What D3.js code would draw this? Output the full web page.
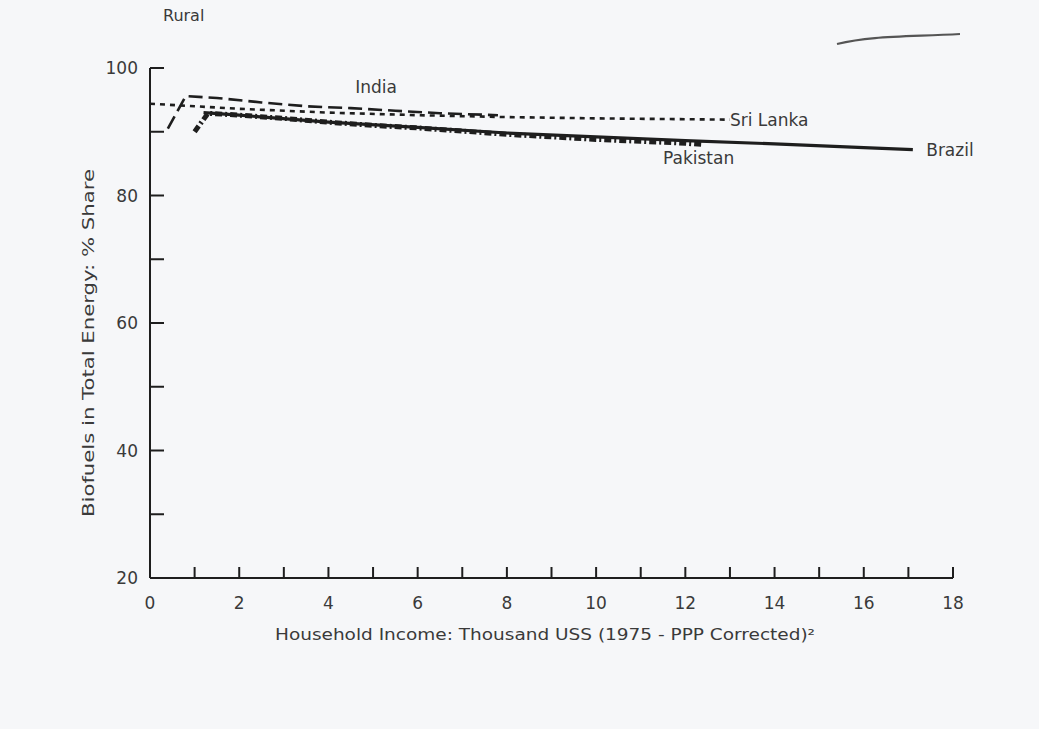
<!DOCTYPE html>
<html>
<head>
<meta charset="utf-8">
<script src="https://cdn.jsdelivr.net/npm/d3@7"></script>
<style>
  body { margin: 0; background: #f6f7f9; }
  svg { display: block; }
  text { font-family: "DejaVu Sans", sans-serif; fill: #3a3a3a; }
</style>
</head>
<body>
<svg id="chart" width="1039" height="729"></svg>
<script>
// data (income in thousand US$, share in %)
const sriLankaX = [0, 1, 2, 4, 6, 8, 10, 13];
const sriLankaY = [94.4, 94.0, 93.6, 93.0, 92.6, 92.3, 92.1, 91.9];

const indiaX = [0.4, 0.8, 1.5, 2.5, 3.5, 4.5, 5.5, 6.5, 7.8];
const indiaY = [90.5, 95.6, 95.3, 94.6, 94.0, 93.7, 93.3, 92.9, 92.6];

const pakistanX = [1.0, 1.3, 2, 3, 4, 5, 6, 7, 8, 9, 10, 11, 12, 12.4];
const pakistanY = [90.0, 92.9, 92.6, 92.1, 91.5, 91.0, 90.6, 90.1, 89.6, 89.2, 88.8, 88.5, 88.2, 88.0];

const brazilX = [1.2, 2, 4, 6, 8, 10, 12, 14, 16, 17.1];
const brazilY = [93.0, 92.6, 91.5, 90.7, 89.8, 89.2, 88.6, 88.1, 87.5, 87.2];

const xTickLabels = [0, 2, 4, 6, 8, 10, 12, 14, 16, 18];
const yTickLabels = [20, 40, 60, 80, 100];

const svg = d3.select("#chart");

const x = d3.scaleLinear().domain([0, 18]).range([150, 953]);
const y = d3.scaleLinear().domain([20, 100]).range([578, 68]);

const ink = "#1e1e1e";

// axes
svg.append("line").attr("x1", x(0)).attr("x2", x(0)).attr("y1", y(100)).attr("y2", y(20))
  .attr("stroke", ink).attr("stroke-width", 2);
svg.append("line").attr("x1", x(0)).attr("x2", x(18)).attr("y1", y(20)).attr("y2", y(20))
  .attr("stroke", ink).attr("stroke-width", 2);

// y ticks every 10, pointing inward
svg.selectAll(".ytick").data(d3.range(20, 101, 10)).enter().append("line")
  .attr("x1", x(0)).attr("x2", x(0) + 14)
  .attr("y1", d => y(d)).attr("y2", d => y(d))
  .attr("stroke", ink).attr("stroke-width", 2);

// x ticks every 1, pointing up
svg.selectAll(".xtick").data(d3.range(1, 19)).enter().append("line")
  .attr("x1", d => x(d)).attr("x2", d => x(d))
  .attr("y1", y(20)).attr("y2", y(20) - 11)
  .attr("stroke", ink).attr("stroke-width", 2);

svg.selectAll(".ylab").data(yTickLabels).enter().append("text")
  .attr("x", x(0) - 12).attr("y", d => y(d) + 6)
  .attr("text-anchor", "end").attr("font-size", 17)
  .text(d => d);

svg.selectAll(".xlab").data(xTickLabels).enter().append("text")
  .attr("x", d => x(d)).attr("y", y(20) + 31)
  .attr("text-anchor", "middle").attr("font-size", 17)
  .text(d => d);

// axis titles
svg.append("text")
  .attr("x", 545).attr("y", 640)
  .attr("text-anchor", "middle").attr("font-size", 16)
  .attr("textLength", 540).attr("lengthAdjust", "spacingAndGlyphs")
  .text("Household Income: Thousand USS (1975 - PPP Corrected)²");

svg.append("text")
  .attr("transform", "translate(94,343) rotate(-90)")
  .attr("text-anchor", "middle").attr("font-size", 16)
  .attr("textLength", 348).attr("lengthAdjust", "spacingAndGlyphs")
  .text("Biofuels in Total Energy: % Share");

svg.append("text").attr("x", 163).attr("y", 21).attr("font-size", 16).text("Rural");

// series
const line = d3.line().x(d => x(d[0])).y(d => y(d[1]));
const zip = (a, b) => a.map((v, i) => [v, b[i]]);

svg.append("path").datum(zip(brazilX, brazilY))
  .attr("d", line).attr("fill", "none")
  .attr("stroke", ink).attr("stroke-width", 3.2);

svg.append("path").datum(zip(pakistanX, pakistanY))
  .attr("d", line).attr("fill", "none")
  .attr("stroke", ink).attr("stroke-width", 5)
  .attr("stroke-dasharray", "7,3,2,3");

svg.append("path").datum(zip(sriLankaX, sriLankaY))
  .attr("d", line).attr("fill", "none")
  .attr("stroke", ink).attr("stroke-width", 2.6)
  .attr("stroke-dasharray", "5,5");

svg.append("path").datum(zip(indiaX, indiaY))
  .attr("d", line).attr("fill", "none")
  .attr("stroke", ink).attr("stroke-width", 2.6)
  .attr("stroke-dasharray", "14,6");

// series labels
const seriesLabels = ["India", "Sri Lanka", "Pakistan", "Brazil"];
const labelX = [4.6, 13.0, 11.5, 17.4];
const labelY = [96.1, 90.9, 84.9, 86.2];
svg.selectAll(".slab").data(seriesLabels).enter().append("text")
  .attr("x", (d, i) => x(labelX[i])).attr("y", (d, i) => y(labelY[i]))
  .attr("font-size", 17)
  .text(d => d);

// pen stroke on the scan, top right
svg.append("path")
  .attr("d", "M837,44 C870,36 900,37 960,34")
  .attr("fill", "none").attr("stroke", "#555").attr("stroke-width", 2.2);
</script>
</body>
</html>
